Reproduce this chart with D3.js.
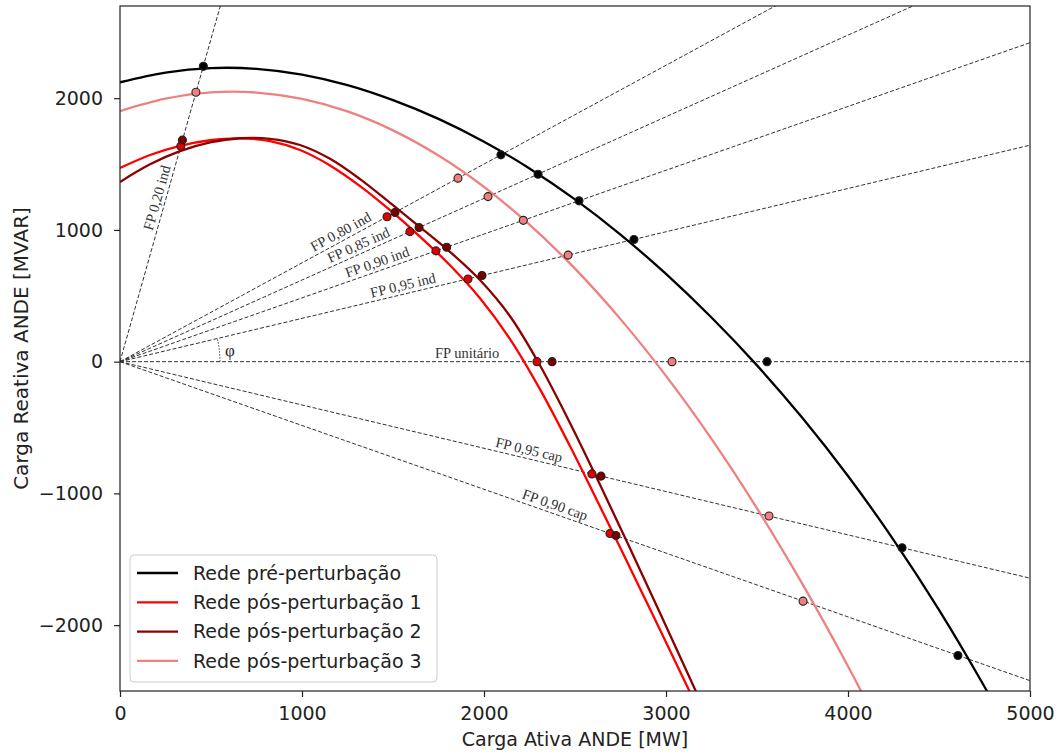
<!DOCTYPE html>
<html><head><meta charset="utf-8">
<script src="https://cdn.jsdelivr.net/npm/d3@7"></script>
<style>body{margin:0;background:#fff}svg{display:block}</style>
</head><body>
<svg id="chart" width="1060" height="754"></svg>
<script>
// ---------------- data ----------------
const xTicks = [0, 1000, 2000, 3000, 4000, 5000];
const yTicks = [-2000, -1000, 0, 1000, 2000];
const seriesNames = ["Rede pré-perturbação", "Rede pós-perturbação 1", "Rede pós-perturbação 2", "Rede pós-perturbação 3"];
const seriesColors = ["#000000", "#ff0000", "#8b0000", "#f08080"];

// curves: active power P (MW) and reactive power Q (MVAR)
const prePw   = [0,250,500,750,1000,1250,1500,1750,2000,2250,2500,2750,3000,3250,3500,3750,4000,4250,4500,4750,5000];
const preQ    = [2121,2195,2229,2223,2179,2099,1985,1843,1670,1467,1232,965,666,335,-28,-428,-868,-1352,-1884,-2468,-3100];
const pos1Pw  = [0,165,330,495,659,824,989,1154,1319,1484,1648,1813,1978,2143,2308,2473,2637,2802,2967,3132,3297];
const pos1Q   = [1470,1569,1639,1681,1695,1674,1607,1490,1333,1150,950,732,482,172,-210,-642,-1098,-1564,-2035,-2510,-2989];
const pos2Pw  = [0,165,330,495,659,824,989,1154,1319,1484,1648,1813,1978,2143,2308,2473,2637,2802,2967,3132,3297];
const pos2Q   = [1364,1498,1598,1664,1696,1692,1645,1540,1386,1206,1022,834,620,345,-29,-467,-933,-1416,-1908,-2405,-2906];
const pos3Pw  = [0,250,500,750,1000,1250,1500,1750,2000,2250,2500,2750,3000,3250,3500,3750,4000,4250];
const pos3Q   = [1902,1996,2044,2043,1995,1900,1756,1565,1327,1040,706,323,-108,-586,-1113,-1689,-2312,-2984];

// operating points (intersections with power-factor lines), [P, Q]
const dotsPre  = [[458,2242],[2093,1570],[2297,1423],[2522,1221],[2824,928],[3555,0],[4297,-1412],[4604,-2230]];
const dotsPos1 = [[334,1636],[1467,1100],[1593,987],[1736,841],[1912,628],[2291,0],[2593,-852],[2692,-1304]];
const dotsPos2 = [[343,1682],[1511,1133],[1643,1018],[1795,869],[1989,654],[2374,0],[2643,-869],[2725,-1320]];
const dotsPos3 = [[417,2045],[1857,1393],[2022,1253],[2216,1073],[2462,809],[3033,0],[3566,-1172],[3753,-1818]];

// power-factor reference lines
const pfValues = [0.20, 0.80, 0.85, 0.90, 0.95, 1.00, 0.95, 0.90];
const pfSigns  = [1, 1, 1, 1, 1, 0, -1, -1];
const pfLabels = ["FP 0,20 ind", "FP 0,80 ind", "FP 0,85 ind", "FP 0,90 ind", "FP 0,95 ind", "FP unitário", "FP 0,95 cap", "FP 0,90 cap"];
const pfLabelP = [250, 1236, 1330, 1429, 1566, 1907, 2236, 2374];

// ---------------- drawing ----------------
const svg = d3.select("#chart");
const L = 120, R = 1030, T = 6, B = 691;
const x = d3.scaleLinear().domain([0, 5000]).range([L, R]);
const y = d3.scaleLinear().domain([-2500, 2700]).range([B, T]);

svg.append("rect").attr("width",1060).attr("height",754).attr("fill","#fff");
svg.append("clipPath").attr("id","clip").append("rect")
  .attr("x",L).attr("y",T).attr("width",R-L).attr("height",B-T);
const plot = svg.append("g").attr("clip-path","url(#clip)");

// PF lines
const slope = (pf, s) => s === 0 ? 0 : s * Math.tan(Math.acos(pf));
pfValues.forEach((pf, i) => {
  const m = slope(pf, pfSigns[i]);
  plot.append("line")
    .attr("x1", x(0)).attr("y1", y(0))
    .attr("x2", x(6000)).attr("y2", y(6000*m))
    .attr("stroke","#333").attr("stroke-width",1).attr("stroke-dasharray","4,2");
});

// labels along lines
pfValues.forEach((pf, i) => {
  const m = slope(pf, pfSigns[i]);
  const P = pfLabelP[i];
  const px = x(P), py = y(P*m);
  const ang = Math.atan2(y(m*1000) - y(0), x(1000) - x(0)) * 180/Math.PI;
  plot.append("text")
    .attr("transform", `translate(${px},${py}) rotate(${ang})`)
    .attr("y", -4).attr("text-anchor","middle")
    .attr("font-family","Liberation Serif, serif").attr("font-size",14.5)
    .attr("fill","#333").text(pfLabels[i]);
});

// phi arc
{
  const m = slope(0.95, 1);
  const a = Math.atan2(y(0) - y(m*1000), x(1000) - x(0));
  const r = 100;
  const cx = x(0), cy = y(0);
  plot.append("path")
    .attr("d", `M${cx+r},${cy} A${r},${r} 0 0 0 ${cx + r*Math.cos(a)},${cy - r*Math.sin(a)}`)
    .attr("fill","none").attr("stroke","#333").attr("stroke-width",0.9).attr("stroke-dasharray","1.5,1.5");
  plot.append("text").attr("x", cx+r+5).attr("y", cy-6)
    .attr("font-family","Liberation Serif, serif").attr("font-size",17).attr("fill","#222").text("φ");
}

// curves
const curves = [
  d3.zip(prePw, preQ), d3.zip(pos1Pw, pos1Q), d3.zip(pos2Pw, pos2Q), d3.zip(pos3Pw, pos3Q)
];
const lineGen = d3.line().x(d => x(d[0])).y(d => y(d[1])).curve(d3.curveCatmullRom.alpha(0.5));
curves.forEach((c, i) => {
  plot.append("path").attr("d", lineGen(c)).attr("fill","none")
    .attr("stroke", seriesColors[i]).attr("stroke-width",2.3);
});

// dots
const dots = [dotsPre, dotsPos1, dotsPos2, dotsPos3];
const dotFill = ["#000000", "#e00000", "#7a0000", "#f08080"];
dots.forEach((ds, i) => {
  plot.selectAll(null).data(ds).enter().append("circle")
    .attr("cx", d => x(d[0])).attr("cy", d => y(d[1])).attr("r", 4)
    .attr("fill", dotFill[i]).attr("stroke","#222").attr("stroke-width",1.1);
});

// axes
const xAxis = svg.append("g").attr("transform",`translate(0,${B})`)
  .call(d3.axisBottom(x).tickValues(xTicks).tickSize(6).tickPadding(10).tickFormat(d3.format("d")));
const yAxis = svg.append("g").attr("transform",`translate(${L},0)`)
  .call(d3.axisLeft(y).tickValues(yTicks).tickSize(6).tickPadding(11).tickFormat(d => d < 0 ? "\u2212" + Math.abs(d) : d));
[xAxis, yAxis].forEach(g => {
  g.select(".domain").remove();
  g.selectAll("line").attr("stroke","#222").attr("stroke-width",1.2);
  g.selectAll("text").attr("font-family","DejaVu Sans, sans-serif").attr("font-size",19).attr("fill","#222");
});

// frame
svg.append("rect").attr("x",L).attr("y",T).attr("width",R-L).attr("height",B-T)
  .attr("fill","none").attr("stroke","#222").attr("stroke-width",1.2);

// axis labels
svg.append("text").attr("x",(L+R)/2).attr("y",746).attr("text-anchor","middle")
  .attr("font-family","DejaVu Sans, sans-serif").attr("font-size",19).attr("fill","#222")
  .text("Carga Ativa ANDE [MW]");
svg.append("text").attr("transform",`translate(28,${(T+B)/2}) rotate(-90)`).attr("text-anchor","middle")
  .attr("font-family","DejaVu Sans, sans-serif").attr("font-size",20).attr("fill","#222")
  .text("Carga Reativa ANDE [MVAR]");

// legend
const lg = svg.append("g");
lg.append("rect").attr("x",130).attr("y",555).attr("width",307).attr("height",127).attr("rx",4)
  .attr("fill","#fff").attr("fill-opacity",0.8).attr("stroke","#ccc").attr("stroke-width",1);
seriesNames.forEach((n, i) => {
  const yy = 573 + i*29.3;
  lg.append("line").attr("x1",137).attr("x2",178).attr("y1",yy).attr("y2",yy)
    .attr("stroke",seriesColors[i]).attr("stroke-width",2.3);
  lg.append("text").attr("x",193).attr("y",yy).attr("dy","0.35em")
    .attr("font-family","DejaVu Sans, sans-serif").attr("font-size",19).attr("fill","#222").text(n);
});
</script>
</body></html>
